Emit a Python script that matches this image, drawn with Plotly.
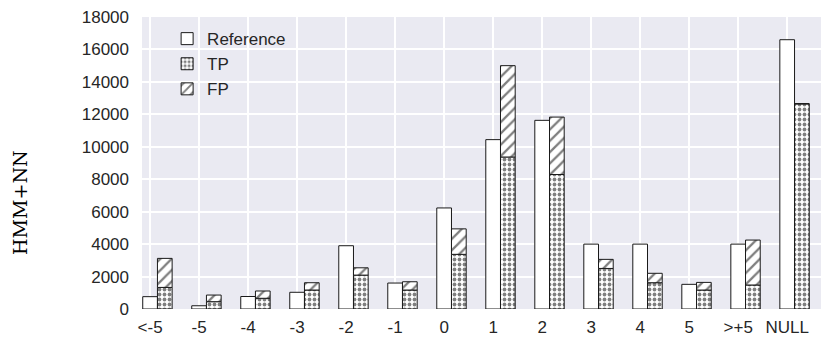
import plotly.graph_objects as go

categories = ["<-5", "-5", "-4", "-3", "-2", "-1", "0", "1", "2", "3", "4", "5", ">+5", "NULL"]
reference = [760, 200, 770, 1030, 3900, 1600, 6230, 10440, 11630, 4000, 4000, 1520, 4000, 16600]
tp = [1330, 450, 660, 1170, 2090, 1170, 3370, 9370, 8290, 2500, 1620, 1170, 1480, 12650]
fp = [1790, 410, 450, 450, 450, 510, 1570, 5630, 3540, 560, 580, 470, 2770, 0]
y_ticks = [0, 2000, 4000, 6000, 8000, 10000, 12000, 14000, 16000, 18000]

xpos = list(range(len(categories)))
W = 0.3
line = dict(color="#1a1a1a", width=1)

fig = go.Figure()
fig.add_trace(go.Bar(
    x=xpos, y=reference, name="Reference", width=W, offset=-W / 2,
    marker=dict(color="white", line=line),
))
fig.add_trace(go.Bar(
    x=xpos, y=tp, name="TP", width=W, offset=W / 2,
    marker=dict(color="white", line=line,
                pattern=dict(shape=".", fgcolor="black", bgcolor="white", size=5, solidity=0.45)),
))
fig.add_trace(go.Bar(
    x=xpos, y=fp, base=tp, name="FP", width=W, offset=W / 2,
    marker=dict(color="white", line=line,
                pattern=dict(shape="/", fgcolor="black", bgcolor="white", size=8, solidity=0.28)),
))

fig.update_layout(
    width=821, height=352,
    margin=dict(l=142, r=0, t=17, b=43, autoexpand=False),
    barmode="overlay",
    paper_bgcolor="white",
    plot_bgcolor="#EAEAF2",
    font=dict(family="Liberation Sans, Arial, sans-serif", size=17, color="#262626"),
    showlegend=True,
    legend=dict(x=0.037, y=0.986, xanchor="left", yanchor="top",
                bgcolor="rgba(0,0,0,0)", font=dict(size=17, color="#262626"),
                traceorder="normal", itemwidth=30, tracegroupgap=0),
    xaxis=dict(
        tickmode="array", tickvals=xpos, ticktext=categories, automargin=False,
        range=[-0.165, 13.69], showgrid=True, gridcolor="white", gridwidth=1.5,
        zeroline=False, showline=False, ticks="", ticklabelstandoff=6,
    ),
    yaxis=dict(
        tickmode="array", tickvals=y_ticks, ticktext=[str(v) for v in y_ticks], automargin=False,
        range=[0, 18000], showgrid=True, gridcolor="white", gridwidth=1.5,
        zeroline=False, showline=False, ticks="", ticklabelstandoff=12,
    ),
    annotations=[dict(
        text="HMM+NN", textangle=-90, xref="paper", yref="paper",
        x=-142 / 679 + 20 / 679, y=(309 - 203) / 292, xanchor="center", yanchor="middle",
        showarrow=False, font=dict(family="DejaVu Serif, serif", size=19, color="black"),
    )],
)

fig.write_html(
    "out.html",
    config={"displayModeBar": False},
    post_script="document.body.style.margin='0';document.body.style.overflow='hidden';",
)
